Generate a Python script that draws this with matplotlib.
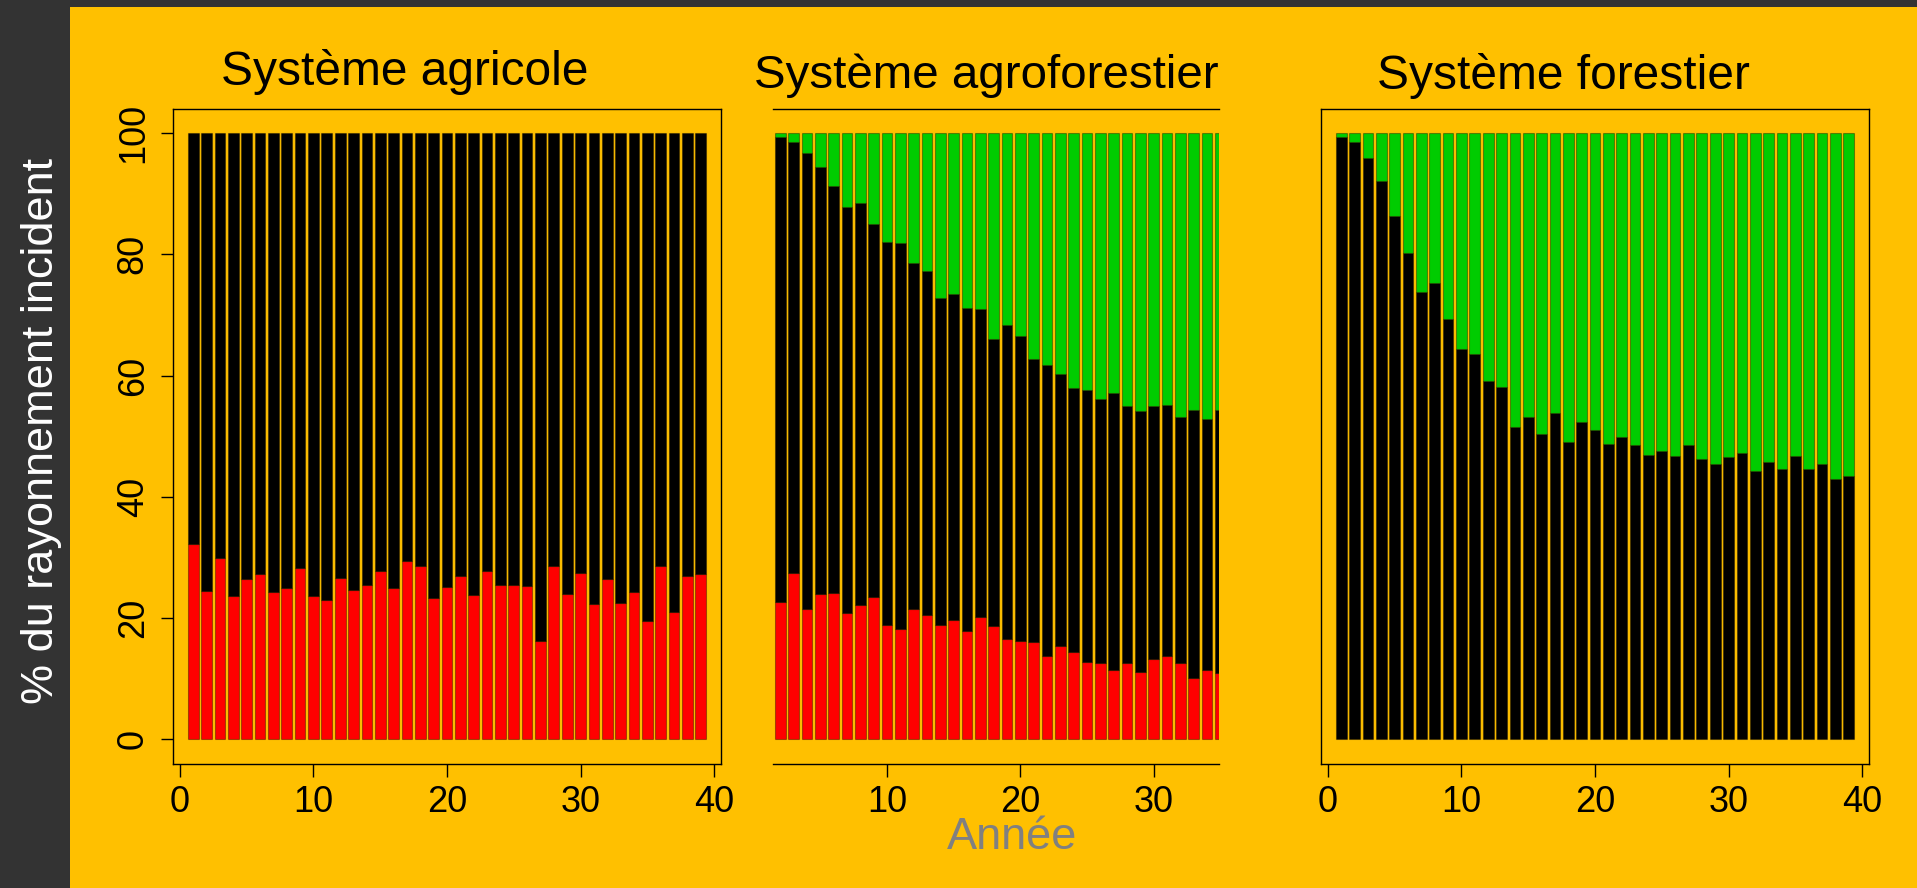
import numpy as np
import matplotlib
matplotlib.use('Agg')
import matplotlib.pyplot as plt
from matplotlib.patches import Rectangle

plt.rcParams['font.family'] = ['Liberation Sans', 'DejaVu Sans']

ORANGE = '#ffc000'
DARK = '#333333'
RED = '#ff0000'
GREEN = '#00cc00'

# --- data ---
years = np.arange(1, 40)

# systeme agricole : part rouge (le reste est noir jusqu'a 100)
agri_red = [32.3, 24.5, 29.9, 23.6, 26.4, 27.3, 24.3, 24.9, 28.2, 23.6,
            23.0, 26.7, 24.7, 25.5, 27.7, 24.9, 29.5, 28.6, 23.4, 25.2,
            26.9, 23.8, 27.7, 25.5, 25.5, 25.3, 16.2, 28.6, 24.0, 27.5,
            22.3, 26.5, 22.5, 24.3, 19.5, 28.6, 21.0, 26.9, 27.3]

# systeme agroforestier : seules les annees 2 a 35 sont visibles
agro_years = np.arange(2, 36)
agro_red = [22.6, 27.5, 21.5, 23.9, 24.1, 20.8, 22.1, 23.5, 18.9, 18.2,
            21.5, 20.6, 18.9, 19.7, 17.8, 20.2, 18.7, 16.5, 16.3, 16.0,
            13.7, 15.4, 14.5, 12.8, 12.6, 11.5, 12.6, 11.1, 13.2, 13.7,
            12.6, 10.2, 11.5, 10.9]
agro_total = [99.3, 98.5, 96.7, 94.4, 91.2, 87.8, 88.4, 85.0, 82.1, 81.9,
              78.5, 77.2, 72.8, 73.4, 71.2, 70.9, 66.1, 68.3, 66.6, 62.8,
              61.7, 60.2, 58.0, 57.6, 56.1, 57.1, 55.0, 54.2, 55.0, 55.2,
              53.1, 54.4, 52.8, 54.4]

# systeme forestier : part noire (le reste est vert)
forest_black = [99.3, 98.5, 95.9, 92.0, 86.3, 80.2, 73.7, 75.2, 69.4, 64.3,
                63.6, 59.1, 58.1, 51.5, 53.1, 50.4, 53.9, 49.1, 52.4, 51.1,
                48.7, 49.8, 48.5, 46.9, 47.6, 46.7, 48.5, 46.3, 45.4, 46.5,
                47.2, 44.3, 45.8, 44.6, 46.7, 44.6, 45.4, 43.0, 43.5]

titles = ['Système agricole', 'Système agroforestier', 'Système forestier']

agri_red = np.array(agri_red)
agro_red = np.array(agro_red)
agro_total = np.array(agro_total)
forest_black = np.array(forest_black)

W, H = 1917, 888
fig = plt.figure(figsize=(W / 100, H / 100), dpi=100, facecolor=ORANGE)

# bandeaux sombres (gauche et haut)
fig.patches.append(Rectangle((0, 0), 70 / W, 1, transform=fig.transFigure,
                             facecolor=DARK, edgecolor='none', zorder=0))
fig.patches.append(Rectangle((0, 1 - 7 / H), 1, 7 / H, transform=fig.transFigure,
                             facecolor=DARK, edgecolor='none', zorder=0))

bottom, top = 1 - 763.7 / H, 1 - 108.7 / H
ax1 = fig.add_axes([173 / W, bottom, (721 - 173) / W, top - bottom])
ax2 = fig.add_axes([773 / W, bottom, (1219 - 773) / W, top - bottom])
ax3 = fig.add_axes([1321 / W, bottom, (1869 - 1321) / W, top - bottom])

edge = dict(edgecolor=(0, 0, 0, 0.35), linewidth=0.8, width=0.8)

# panneau 1
ax1.bar(years, agri_red, color=RED, **edge)
ax1.bar(years, 100 - agri_red, bottom=agri_red, color='black', **edge)

# panneau 2
ax2.bar(agro_years, agro_red, color=RED, **edge)
ax2.bar(agro_years, agro_total - agro_red, bottom=agro_red, color='black', **edge)
ax2.bar(agro_years, 100 - agro_total, bottom=agro_total, color=GREEN, **edge)

# panneau 3
ax3.bar(years, forest_black, color='black', **edge)
ax3.bar(years, 100 - forest_black, bottom=forest_black, color=GREEN, **edge)

for ax in (ax1, ax2, ax3):
    ax.set_facecolor('none')
    ax.set_ylim(-4, 104)
    ax.set_xlim(-0.52, 40.52)
    for s in ax.spines.values():
        s.set_linewidth(1.0)
    ax.tick_params(axis='x', length=9, width=1.0, labelsize=26, pad=6)
    ax.set_xticks([0, 10, 20, 30, 40])

ax2.set_xlim(1.45, 34.9)
ax2.spines['left'].set_visible(False)
ax2.spines['right'].set_visible(False)
ax2.set_yticks([])
ax3.set_yticks([])

ax1.set_yticks([0, 20, 40, 60, 80, 100])
ax1.set_yticklabels(['0', '20', '40', '60', '80', '100'], rotation=90, va='center')
ax1.tick_params(axis='y', length=9, width=1.0, labelsize=26, pad=7)

# titres
fig.text(405 / W, 1 - 85 / H, titles[0], ha='center', va='baseline', fontsize=34.5)
fig.text(986.5 / W, 1 - 88.3 / H, titles[1], ha='center', va='baseline', fontsize=34.2)
fig.text(1563 / W, 1 - 89.3 / H, titles[2], ha='center', va='baseline', fontsize=34.5)

fig.text(41.6 / W, 1 - 431 / H, '% du rayonnement incident', rotation=90,
         ha='center', va='center', color='white', fontsize=32.5)
fig.text(1012 / W, 1 - 849 / H, 'Année', ha='center', va='baseline',
         color='#808080', fontsize=32.5)

fig.savefig('out.png', dpi=100, facecolor=ORANGE)
